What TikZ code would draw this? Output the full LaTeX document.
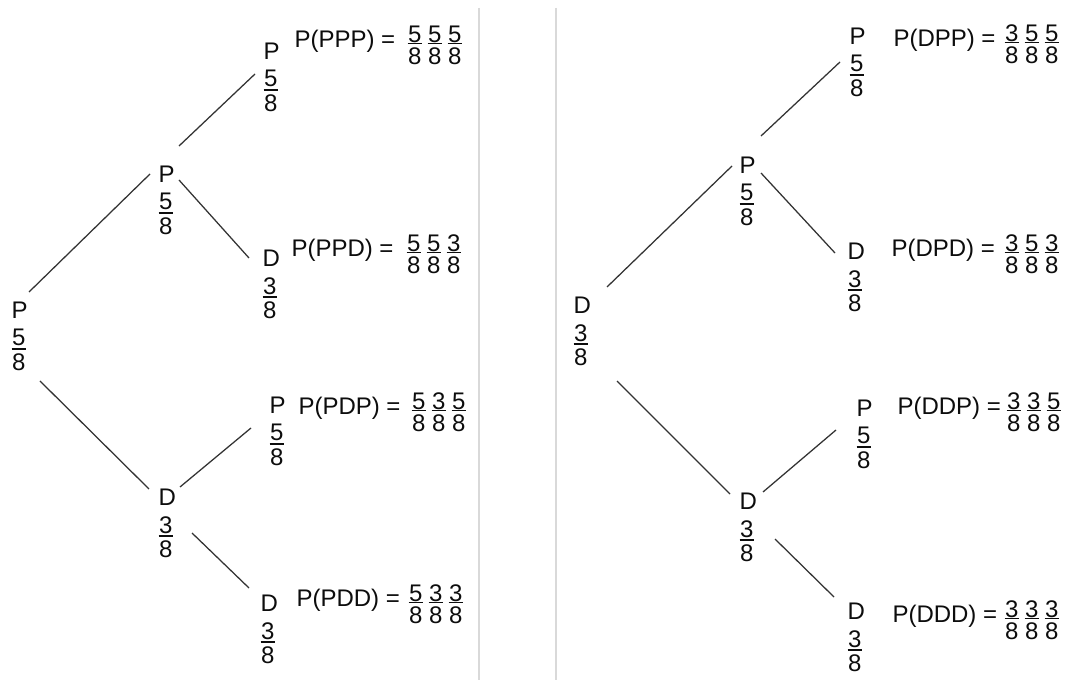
\documentclass[tikz,border=0pt]{standalone}
\usepackage{fontspec}
\setmainfont{Liberation Sans}
\newcommand\fs{\fontsize{18}{21.6}\selectfont}
% fraction inside a tree node
\newcommand\nfr[2]{\vbox{\offinterlineskip\halign{\kern.5pt\hfil##\hfil\kern.5pt\cr#1\cr\noalign{\kern1.5pt\hrule height1.1pt\kern3.2pt}#2\cr}}}
% letter over fraction
\newcommand\tnode[3]{\vbox{\offinterlineskip\halign{##\hfil\cr#1\cr\noalign{\kern8.2pt}\nfr{#2}{#3}\cr}}}
% fraction in a result
\newcommand\rfr[2]{\raisebox{-12.5pt}{\vbox{\offinterlineskip\halign{\kern.5pt\hfil##\hfil\kern.5pt\cr#1\cr\noalign{\kern.5pt\hrule height1pt\kern2.6pt}#2\cr}}}}
\newcommand\prodfr[6]{\rfr{#1}{#2}\hspace{4pt}\rfr{#3}{#4}\hspace{4pt}\rfr{#5}{#6}}
\tikzset{
  tn/.style={inner sep=0pt, outer sep=0pt, anchor=north west, font=\fs, text=black!95},
  lbl/.style={inner sep=0pt, outer sep=0pt, anchor=base west, font=\fs, text=black!95},
  branch/.style={draw=black!80, line width=0.95pt},
  sep/.style={draw=black!15, line width=0.8pt}
}
\begin{document}
\begin{tikzpicture}[x=0.75pt, y=-0.75pt]
\fill[white] (0,0) rectangle (1068,680);
\useasboundingbox (0,0) rectangle (1068,680);
% separators
\draw[sep] (479,8) -- (479,680);
\draw[sep] (556,8) -- (556,680);
% ---------------- left tree ----------------
\node[tn] (Lroot) at (11.5,302) {\tnode{P}{5}{8}};
\node[tn] (LP2)   at (158.5,166) {\tnode{P}{5}{8}};
\node[tn] (LPPP)  at (263.5,43)  {\tnode{P}{5}{8}};
\node[tn] (LPPD)  at (262.5,250) {\tnode{D}{3}{8}};
\node[tn] (LD2)   at (158.5,489) {\tnode{D}{3}{8}};
\node[tn] (LPDP)  at (269.5,397) {\tnode{P}{5}{8}};
\node[tn] (LPDD)  at (260.5,595) {\tnode{D}{3}{8}};
\draw[branch] ([shift={(17.5,-10)}]Lroot.north west) -- ([shift={(-8.5,8)}]LP2.north west);
\draw[branch] ([shift={(20.5,-20)}]LP2.north west) -- ([shift={(-8.5,31)}]LPPP.north west);
\draw[branch] ([shift={(20.5,14)}]LP2.north west) -- ([shift={(-13.5,8)}]LPPD.north west);
\draw[branch] ([shift={(28.5,79)}]Lroot.north west) -- ([shift={(-9.5,0)}]LD2.north west);
\draw[branch] ([shift={(21.5,-2)}]LD2.north west) -- ([shift={(-18.5,31)}]LPDP.north west);
\draw[branch] ([shift={(33.5,44)}]LD2.north west) -- ([shift={(-11.5,-7)}]LPDD.north west);
\node[lbl] (tPPP) at (294.5,48)  {P(PPP) =};
\node[lbl] (fPPP) at (407.5,48)  {\prodfr5858 58};
\node[lbl] (tPPD) at (291.5,257) {P(PPD) =};
\node[lbl] (fPPD) at (406.5,257) {\prodfr5858 38};
\node[lbl] (tPDP) at (298.5,415) {P(PDP) =};
\node[lbl] (fPDP) at (411.5,415) {\prodfr5838 58};
\node[lbl] (tPDD) at (296.5,607) {P(PDD) =};
\node[lbl] (fPDD) at (408.5,607) {\prodfr5838 38};
% ---------------- right tree ----------------
\node[tn] (Rroot) at (573.5,297) {\tnode{D}{3}{8}};
\node[tn] (RP)    at (739.5,157) {\tnode{P}{5}{8}};
\node[tn] (RDPP)  at (849.5,28)  {\tnode{P}{5}{8}};
\node[tn] (RDPD)  at (847.5,243) {\tnode{D}{3}{8}};
\node[tn] (RD2)   at (739.5,493) {\tnode{D}{3}{8}};
\node[tn] (RDDP)  at (856.5,400) {\tnode{P}{5}{8}};
\node[tn] (RDDD)  at (847.5,603) {\tnode{D}{3}{8}};
\draw[branch] ([shift={(33.5,-10)}]Rroot.north west) -- ([shift={(-7.5,9)}]RP.north west);
\draw[branch] ([shift={(21.5,-21)}]RP.north west) -- ([shift={(-9.5,34)}]RDPP.north west);
\draw[branch] ([shift={(21.5,16)}]RP.north west) -- ([shift={(-12.5,10)}]RDPD.north west);
\draw[branch] ([shift={(43.5,84)}]Rroot.north west) -- ([shift={(-9.5,1)}]RD2.north west);
\draw[branch] ([shift={(23.5,-1)}]RD2.north west) -- ([shift={(-20.5,30)}]RDDP.north west);
\draw[branch] ([shift={(35.5,46)}]RD2.north west) -- ([shift={(-13.5,-6)}]RDDD.north west);
\node[lbl] (tDPP) at (893.5,47)  {P(DPP) =};
\node[lbl] (fDPP) at (1004.5,47) {\prodfr3858 58};
\node[lbl] (tDPD) at (891.5,257) {P(DPD) =};
\node[lbl] (fDPD) at (1004.5,257) {\prodfr3858 38};
\node[lbl] (tDDP) at (897.5,415) {P(DDP) =};
\node[lbl] (fDDP) at (1006.5,415) {\prodfr3838 58};
\node[lbl] (tDDD) at (892.5,623) {P(DDD) =};
\node[lbl] (fDDD) at (1004.5,623) {\prodfr3838 38};
\end{tikzpicture}
\end{document}
